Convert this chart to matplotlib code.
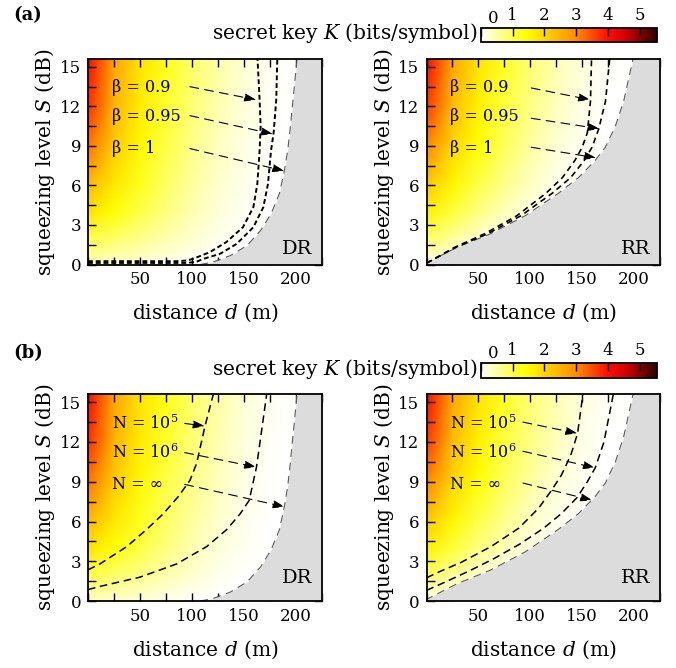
import numpy as np
import matplotlib
matplotlib.use('Agg')
import matplotlib.pyplot as plt
from matplotlib.colors import LinearSegmentedColormap
from matplotlib.ticker import MultipleLocator, FixedLocator

plt.rcParams['font.family'] = ['DejaVu Serif']
plt.rcParams['mathtext.fontset'] = 'dejavuserif'

# ---------------- data ----------------
d_grid = [0, 25, 50, 75, 100, 125, 150, 175, 200, 225]          # distance (m)
S_grid = [0, 0.8, 2, 4, 6, 9, 12, 15.6]                          # squeezing (dB)

# key rate K (bits/symbol), rows follow S_grid, columns follow d_grid
K_DR = [
    [0.35, 0.30, 0.22, 0.13, 0.04, 0.00, 0.00, 0.00, 0.00, 0.00],
    [0.62, 0.52, 0.40, 0.27, 0.14, 0.04, 0.00, 0.00, 0.00, 0.00],
    [1.00, 0.85, 0.66, 0.46, 0.28, 0.11, 0.00, 0.00, 0.00, 0.00],
    [1.80, 1.38, 1.02, 0.72, 0.44, 0.22, 0.07, 0.00, 0.00, 0.00],
    [2.40, 1.72, 1.24, 0.86, 0.54, 0.30, 0.12, 0.00, 0.00, 0.00],
    [3.20, 2.15, 1.50, 1.02, 0.66, 0.37, 0.17, 0.03, 0.00, 0.00],
    [3.75, 2.45, 1.68, 1.15, 0.76, 0.44, 0.21, 0.06, 0.00, 0.00],
    [4.10, 2.70, 1.84, 1.28, 0.84, 0.50, 0.25, 0.08, 0.00, 0.00],
]
K_RR = [
    [0.00, 0.00, 0.00, 0.00, 0.00, 0.00, 0.00, 0.00, 0.00, 0.00],
    [0.45, 0.20, 0.02, 0.00, 0.00, 0.00, 0.00, 0.00, 0.00, 0.00],
    [0.90, 0.58, 0.27, 0.05, 0.00, 0.00, 0.00, 0.00, 0.00, 0.00],
    [1.62, 1.10, 0.70, 0.40, 0.14, 0.00, 0.00, 0.00, 0.00, 0.00],
    [2.20, 1.50, 1.00, 0.64, 0.34, 0.11, 0.00, 0.00, 0.00, 0.00],
    [3.05, 2.00, 1.37, 0.90, 0.54, 0.26, 0.07, 0.00, 0.00, 0.00],
    [3.65, 2.38, 1.60, 1.07, 0.68, 0.37, 0.15, 0.02, 0.00, 0.00],
    [4.10, 2.68, 1.80, 1.22, 0.78, 0.44, 0.20, 0.05, 0.00, 0.00],
]

# K = 0 boundaries (beta = 1 / N = infinity)
bDR_S = [0, 0.18, 0.68, 1.44, 2.58, 3.85, 5.37, 7.2, 8.66, 10.0, 12.4, 15.6]
bDR_d = [108, 120, 137, 153, 166, 176, 184, 189, 192, 194, 197, 201]
bRR_S = [0, 0.17, 1.3, 2.33, 3.7, 5.4, 6.6, 7.9, 8.9, 10.5, 12.4, 15.6]
bRR_d = [0, 1.3, 29.4, 61.6, 95, 127, 146.5, 162.6, 172.3, 182, 190, 199]

# beta curves, direct reconciliation
b090DR_S = [0.25, 0.25, 0.3, 0.43, 0.93, 1.7, 2.83, 4.35, 6.1, 8.66, 10.5, 12.5, 15.6]
b090DR_d = [0, 85, 95, 101, 117, 133, 149, 159, 162.8, 165, 166, 165, 163]
b095DR_S = [0.12, 0.12, 0.2, 0.43, 0.81, 1.57, 2.83, 4.35, 6.1, 8.66, 10.0, 12.5, 15.6]
b095DR_d = [0, 95, 104, 111, 127, 143, 159, 168.6, 173, 176, 178.5, 181, 182]
# beta curves, reverse reconciliation
b090RR_S = [0.1, 1.3, 2.33, 3.7, 5.4, 6.6, 7.9, 8.9, 10.0, 12.4, 15.6]
b090RR_d = [0, 27, 56, 87, 115, 131, 143, 150, 155, 158, 159]
b095RR_S = [0.1, 1.3, 2.33, 3.7, 5.4, 6.6, 7.9, 8.9, 10.3, 12.4, 15.6]
b095RR_d = [0, 28, 59, 91, 121, 139, 152, 159.5, 166, 172.5, 176.5]

# finite-size curves, direct reconciliation
n5DR_S = [2.35, 2.8, 4.1, 5.4, 6.6, 7.9, 9.1, 10.4, 13.2, 15.6]
n5DR_d = [0, 11.5, 37.2, 56.4, 72.6, 87, 98, 104.5, 112.5, 120.5]
n6DR_S = [0.86, 1.1, 1.8, 2.8, 4.1, 5.4, 6.6, 7.6, 10.1, 12.9, 15.6]
n6DR_d = [0, 11.5, 50, 85.3, 114, 133.5, 146.5, 155, 162, 167, 171.8]
# finite-size curves, reverse reconciliation
n5RR_S = [1.75, 2.3, 2.9, 4.1, 5.5, 7.0, 8.3, 9.5, 11.0, 12.65, 15.6]
n5RR_d = [0, 15, 33, 62, 89, 108, 120, 130, 139, 145.6, 150.7]
n6RR_S = [0.8, 1.5, 2.3, 3.2, 4.3, 5.5, 6.6, 7.8, 9.0, 10.05, 12.0, 15.6]
n6RR_d = [0, 20, 42, 65, 90, 113, 130, 145, 155, 162.6, 171, 180]

beta_labels = ['β = 0.9', 'β = 0.95', 'β = 1']
N_labels = ['N = 10$^5$', 'N = 10$^6$', 'N = ∞']
label_d = 23
label_S = [13.4, 11.2, 8.8]

arrA_DR_start = [(98, 13.5), (98, 11.3), (98, 8.8)]
arrA_DR_tip = [(162, 12.5), (178, 9.9), (189, 7.1)]
arrA_RR_start = [(101, 13.4), (101, 11.1), (101, 8.9)]
arrA_RR_tip = [(158, 12.5), (167, 10.3), (163.5, 8.1)]
arrB_DR_start = [(93, 13.4), (93, 11.2), (93, 8.8)]
arrB_DR_tip = [(112.5, 13.2), (162, 10.1), (189.4, 7.1)]
arrB_RR_start = [(93, 13.5), (93, 11.3), (93, 8.9)]
arrB_RR_tip = [(145.6, 12.65), (162.6, 10.05), (160, 7.6)]

x_tick_values = [50, 100, 150, 200]
y_tick_values = [0, 3, 6, 9, 12, 15]
cbar_ticks = [0, 1, 2, 3, 4, 5]
K_MAX = 5.55

# ---------------- style ----------------
cmap = LinearSegmentedColormap.from_list('key', [
    (0.0, (1, 1, 1)),
    (1.4 / K_MAX, (1, 1, 0)),
    (2.0 / K_MAX, (1, 0.84, 0)),
    (3.0 / K_MAX, (1, 0.55, 0)),
    (4.0 / K_MAX, (1, 0.05, 0)),
    (4.5 / K_MAX, (0.85, 0, 0)),
    (5.0 / K_MAX, (0.55, 0, 0)),
    (1.0, (0.18, 0, 0)),
])

W, H = 676, 668
fig = plt.figure(figsize=(W / 100, H / 100), dpi=100)

LABEL_FS = 14.5
TICK_FS = 12


def px_axes(x0, y0, x1, y1):
    return fig.add_axes([x0 / W, 1 - y1 / H, (x1 - x0) / W, (y1 - y0) / H])


def panel(ax, K, bS, bd, curves, curve_lw, curve_dash, labels, starts, tips, tag, tagS):
    X, Y = np.meshgrid(d_grid, S_grid)
    mesh = ax.pcolormesh(X, Y, np.array(K), cmap=cmap, vmin=0, vmax=K_MAX,
                         shading='gouraud', zorder=1)
    ax.fill_betweenx(bS, bd, 240, color='#dcdcdc', lw=0, zorder=2)
    ax.plot(bd, bS, color='#5a5a5a', lw=0.8, ls=(0, (7, 5)), zorder=4)
    for cd, cS in curves:
        ax.plot(cd, cS, color='k', lw=curve_lw, ls=(0, curve_dash), zorder=5)
    for lab, s in zip(labels, label_S):
        ax.text(label_d, s, lab, fontsize=11.5, ha='left', va='center', zorder=6)
    for st, tp in zip(starts, tips):
        ax.annotate('', xy=tp, xytext=st, zorder=7,
                    arrowprops=dict(arrowstyle='-|>,head_length=0.6,head_width=0.2',
                                    color='k', lw=0.8, ls=(0, (8, 5.5)),
                                    mutation_scale=12, shrinkA=0, shrinkB=0))
    ax.text(216, tagS, tag, fontsize=14, ha='right', va='center', zorder=6)
    ax.set_xlim(0, 225)
    ax.set_ylim(0, 15.6)
    ax.xaxis.set_major_locator(FixedLocator(x_tick_values))
    ax.xaxis.set_minor_locator(MultipleLocator(25))
    ax.yaxis.set_major_locator(FixedLocator(y_tick_values))
    ax.yaxis.set_minor_locator(MultipleLocator(1.5))
    ax.tick_params(which='both', direction='in', top=True, right=True,
                   length=6, width=1.0, labelsize=TICK_FS, pad=5)
    for sp in ax.spines.values():
        sp.set_linewidth(1.3)
        sp.set_zorder(10)
    ax.set_xlabel('distance $d$ (m)', fontsize=LABEL_FS)
    ax.set_ylabel('squeezing level $S$ (dB)', fontsize=LABEL_FS)
    ax.xaxis.label.set_va('center')
    ax.yaxis.label.set_va('center')
    ax.xaxis.set_label_coords(0.5, -0.236)
    ax.yaxis.set_label_coords(-0.184, 0.5)
    return mesh


def colorbar(mesh, x0, y0, x1, y1):
    cax = px_axes(x0, y0, x1, y1)
    cb = fig.colorbar(mesh, cax=cax, orientation='horizontal')
    cb.set_ticks(cbar_ticks)
    cb.set_ticklabels([''] + [str(t) for t in cbar_ticks[1:]])
    cax.xaxis.set_ticks_position('top')
    cax.tick_params(direction='in', length=6, width=1.0, labelsize=TICK_FS, pad=3)
    cb.outline.set_linewidth(1.3)
    fig.text((x0 + 12) / W, 1 - (y0 - 10) / H, str(cbar_ticks[0]), fontsize=TICK_FS,
             ha='center', va='center')
    fig.text((x0 - 3) / W, 1 - ((y0 + y1) / 2 - 2) / H,
             'secret key $K$ (bits/symbol)', fontsize=LABEL_FS, ha='right', va='center')


# row (a)
ax1 = px_axes(88, 59, 322, 264.5)
m1 = panel(ax1, K_DR, bDR_S, bDR_d, [(b090DR_d, b090DR_S), (b095DR_d, b095DR_S)],
           1.4, (2.5, 1.5), beta_labels, arrA_DR_start, arrA_DR_tip, 'DR', 1.2)
ax2 = px_axes(426.5, 59, 660, 264.5)
m2 = panel(ax2, K_RR, bRR_S, bRR_d, [(b090RR_d, b090RR_S), (b095RR_d, b095RR_S)],
           1.2, (3.5, 2.5), beta_labels, arrA_RR_start, arrA_RR_tip, 'RR', 1.2)
colorbar(m2, 481, 28.3, 657, 42.3)

# row (b)
ax3 = px_axes(88, 394.3, 322, 601)
m3 = panel(ax3, K_DR, bDR_S, bDR_d, [(n5DR_d, n5DR_S), (n6DR_d, n6DR_S)],
           1.1, (5, 3), N_labels, arrB_DR_start, arrB_DR_tip, 'DR', 1.7)
ax4 = px_axes(426.5, 394.3, 660, 601)
m4 = panel(ax4, K_RR, bRR_S, bRR_d, [(n5RR_d, n5RR_S), (n6RR_d, n6RR_S)],
           1.1, (5, 3), N_labels, arrB_RR_start, arrB_RR_tip, 'RR', 1.7)
colorbar(m4, 481, 363.3, 657, 378.3)

fig.text(13 / W, 1 - 15 / H, '(a)', fontsize=13, fontweight='bold', ha='left', va='center')
fig.text(13 / W, 1 - 353 / H, '(b)', fontsize=13, fontweight='bold', ha='left', va='center')

fig.savefig('out.png', dpi=100)
